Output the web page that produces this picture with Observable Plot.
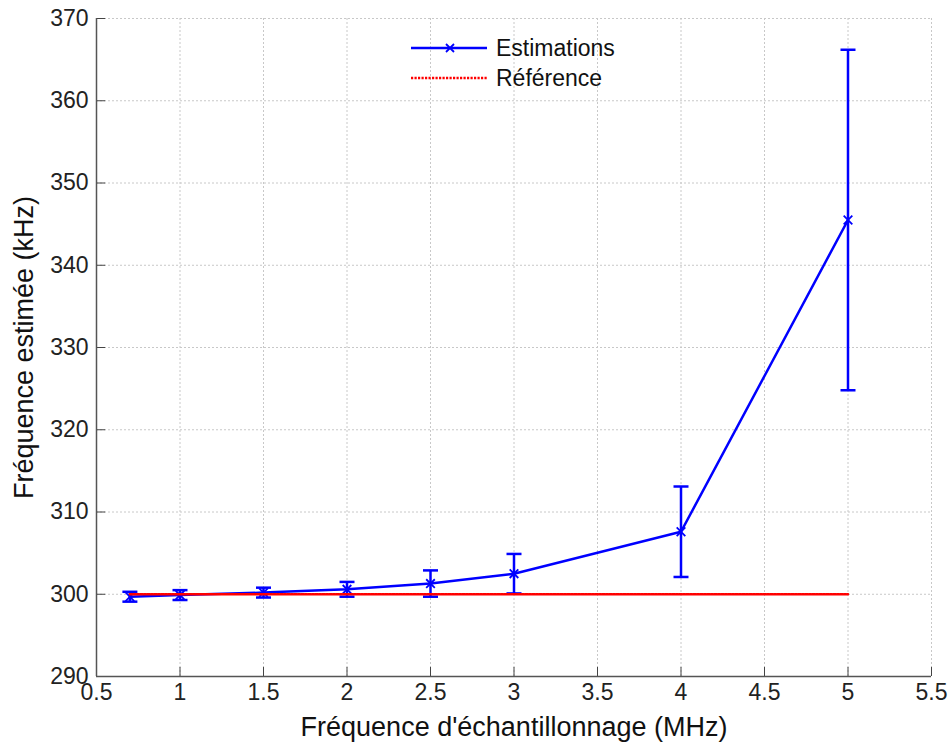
<!DOCTYPE html>
<html>
<head>
<meta charset="utf-8">
<script src="https://cdn.jsdelivr.net/npm/d3@7"></script>
<script src="https://cdn.jsdelivr.net/npm/@observablehq/plot@0.6"></script>
<style>
  body { margin: 0; background: #fff; font-family: "Liberation Sans", Arial, sans-serif; }
  #wrap { position: relative; width: 952px; height: 744px; }
  #legend { position: absolute; left: 410px; top: 33px; font-size: 23px; color: #111; line-height: 30px; }
  #legend div { display: flex; align-items: center; }
  #legend svg { margin-right: 8px; }
</style>
</head>
<body>
<div id="wrap">
  <div id="chart"></div>
  <div id="legend">
    <div><svg width="78" height="14"><line x1="1" y1="7" x2="77" y2="7" stroke="#0000ff" stroke-width="2.5"/><path d="M36,3L44,11M44,3L36,11" stroke="#0000ff" stroke-width="1.8"/></svg>Estimations</div>
    <div><svg width="78" height="14"><line x1="1" y1="7" x2="77" y2="7" stroke="#ff0000" stroke-width="2.5" stroke-dasharray="2.2,1.3"/></svg>Référence</div>
  </div>
</div>
<script>
const freqs = [0.7, 1, 1.5, 2, 2.5, 3, 4, 5];
const estimates = [299.7, 299.9, 300.2, 300.6, 301.3, 302.5, 307.6, 345.5];
const errors = [0.6, 0.6, 0.6, 0.9, 1.6, 2.4, 5.5, 20.7];
const reference = [300, 300, 300, 300, 300, 300, 300, 300];
const xTicks = [0.5, 1, 1.5, 2, 2.5, 3, 3.5, 4, 4.5, 5, 5.5];
const yTicks = [290, 300, 310, 320, 330, 340, 350, 360, 370];

const est = freqs.map((f, i) => ({x: f, y: estimates[i], lo: estimates[i] - errors[i], hi: estimates[i] + errors[i]}));
const ref = freqs.map((f, i) => ({x: f, y: reference[i]}));

const capSymbol = {
  draw(context, size) {
    const r = Math.sqrt(size / Math.PI);
    context.moveTo(-r, 0);
    context.lineTo(r, 0);
  }
};

const chart = Plot.plot({
  width: 952,
  height: 744,
  marginLeft: 96,
  marginRight: 21,
  marginTop: 18,
  marginBottom: 68,
  style: {fontFamily: '"Liberation Sans", Arial, sans-serif', fontSize: "23px", color: "#222", background: "#fff"},
  x: {domain: [0.5, 5.5]},
  y: {domain: [290, 370]},
  marks: [
    Plot.gridX(xTicks, {stroke: "#c8c8c8", strokeOpacity: 1, strokeWidth: 1, strokeDasharray: "2,2"}),
    Plot.gridY(yTicks, {stroke: "#c8c8c8", strokeOpacity: 1, strokeWidth: 1, strokeDasharray: "2,2"}),
    Plot.axisX({ticks: xTicks, tickSize: 0, tickPadding: 7, tickFormat: d => String(d), label: null, fontSize: 23}),
    Plot.axisY({ticks: yTicks, tickSize: 0, tickPadding: 8, tickFormat: d => String(d), label: null, fontSize: 23}),
    Plot.ruleX(xTicks, {x: d => d, y1: 290, y2: 291.1, stroke: "#444", strokeWidth: 1}),
    Plot.ruleY(yTicks, {y: d => d, x1: 0.5, x2: 0.555, stroke: "#444", strokeWidth: 1}),
    Plot.ruleX([0.5], {stroke: "#555", strokeWidth: 1.5}),
    Plot.ruleY([290], {stroke: "#555", strokeWidth: 1.5}),
    Plot.ruleX(est, {x: "x", y1: "lo", y2: "hi", stroke: "#0000ff", strokeWidth: 2.5}),
    Plot.dot(est, {x: "x", y: "lo", symbol: capSymbol, r: 7.5, stroke: "#0000ff", strokeWidth: 2.5}),
    Plot.dot(est, {x: "x", y: "hi", symbol: capSymbol, r: 7.5, stroke: "#0000ff", strokeWidth: 2.5}),
    Plot.line(est, {x: "x", y: "y", stroke: "#0000ff", strokeWidth: 2.5}),
    Plot.dot(est, {x: "x", y: "y", symbol: "times", r: 4, stroke: "#0000ff", strokeWidth: 1.8}),
    Plot.line(ref, {x: "x", y: "y", stroke: "#ff0000", strokeWidth: 2.5, strokeDasharray: "2.2,1.3"}),
    Plot.text(["Fréquence d'échantillonnage (MHz)"], {frameAnchor: "bottom", lineAnchor: "middle", textAnchor: "middle", dy: 51, fontSize: 27, fill: "#111"}),
    Plot.text(["Fréquence estimée (kHz)"], {frameAnchor: "left", lineAnchor: "middle", textAnchor: "middle", dx: -72, rotate: -90, fontSize: 27, fill: "#111"})
  ]
});
document.getElementById("chart").appendChild(chart);
</script>
</body>
</html>
